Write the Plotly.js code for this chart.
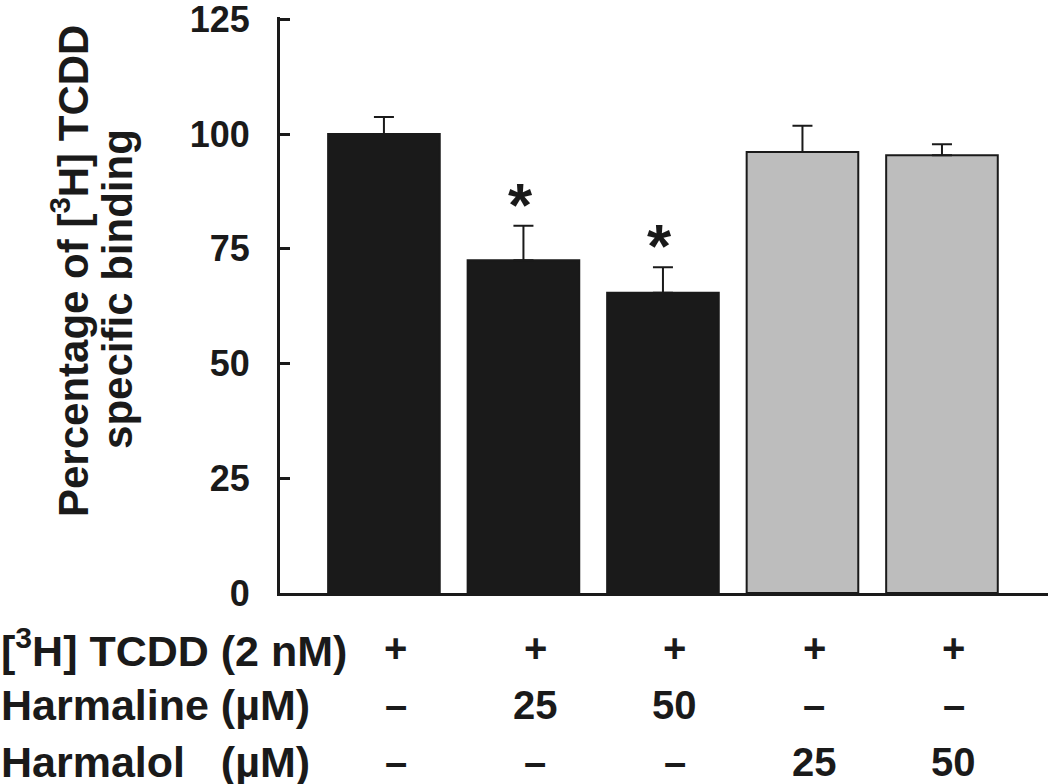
<!DOCTYPE html>
<html>
<head>
<meta charset="utf-8">
<script src="https://cdn.plot.ly/plotly-3.0.1.min.js"></script>
<style>
  body { margin: 0; background: #fff; }
  #chart { width: 1050px; height: 784px; }
</style>
</head>
<body>
<div id="chart"></div>
<script>
// bar values (% of [3H]TCDD specific binding)
const conditions = ["Control", "Harmaline 25", "Harmaline 50", "Harmalol 25", "Harmalol 50"];
const binding = [100, 72.5, 65.4, 96.1, 95.4];
const sem = [3.7, 7.5, 5.6, 5.7, 2.4];
const significant = [false, true, true, false, false];
const compound = ["none", "harmaline", "harmaline", "harmalol", "harmalol"];

// treatment table under the bars
const rowLabels = [
  "[<sup>3</sup>H] TCDD (2 nM)",
  "Harmaline (\u00b5M)",
  "Harmalol\u00a0\u00a0\u00a0(\u00b5M)",
];
const tcddRow = ["+", "+", "+", "+", "+"];
const harmalineRow = ["\u2013", "25", "50", "\u2013", "\u2013"];
const harmalolRow = ["\u2013", "\u2013", "\u2013", "25", "50"];
const yTicks = [0, 25, 50, 75, 100, 125];
const yTitleLines = ["Percentage of [<sup>3</sup>H] TCDD", "specific binding"];

const FONT = "'Liberation Sans', Arial, Helvetica, sans-serif";
const INK = "#1a1a1a";

const xIdx = conditions.map((c, i) => i);

const trace = {
  type: "bar",
  x: xIdx,
  y: binding,
  hovertext: conditions,
  hoverinfo: "text+y",
  marker: {
    color: compound.map((c) => (c === "harmalol" ? "#bdbdbd" : INK)),
    line: { color: INK, width: 2 },
  },
  error_y: {
    type: "data",
    symmetric: false,
    array: sem,
    arrayminus: sem.map(() => 0),
    color: INK,
    thickness: 2,
    width: 10,
  },
};

// significance stars
const annotations = [];
binding.forEach((v, i) => {
  if (!significant[i]) return;
  annotations.push({
    x: i, y: v + sem[i], xref: "x", yref: "y",
    text: "*", showarrow: false,
    xanchor: "center", yanchor: "bottom", yshift: -15, xshift: -3,
    font: { family: FONT, size: 62, color: INK, weight: "bold" },
  });
});

// table rows
const rows = [tcddRow, harmalineRow, harmalolRow];
const rowY = [-0.096, -0.194, -0.294];
rows.forEach((row, r) => {
  annotations.push({
    x: -0.3646, y: rowY[r], xref: "paper", yref: "paper",
    text: rowLabels[r], showarrow: false,
    xanchor: "left", yanchor: "middle", borderpad: 0,
    font: { family: FONT, size: 43, color: INK, weight: "bold" },
  });
  row.forEach((cell, i) => {
    annotations.push({
      x: i, y: rowY[r], xref: "x", yref: "paper",
      text: cell, showarrow: false, xshift: 12, borderpad: 0,
      xanchor: "center", yanchor: "middle",
      font: { family: FONT, size: 40, color: INK, weight: "bold" },
    });
  });
});

// y title, two lines placed separately (tighter leading than plotly's <br>)
const titleX = [-0.2734, -0.2109];
const titleY = [0.559, 0.528];
yTitleLines.forEach((t, k) => {
  annotations.push({
    x: titleX[k], y: titleY[k], xref: "paper", yref: "paper",
    text: t, textangle: -90, showarrow: false,
    xanchor: "center", yanchor: "middle",
    font: { family: FONT, size: 42, color: INK, weight: "bold" },
  });
});

const layout = {
  width: 1050,
  height: 784,
  margin: { l: 280, r: 2, t: 17, b: 191 },
  paper_bgcolor: "#fff",
  plot_bgcolor: "#fff",
  showlegend: false,
  bargap: 0.2,
  font: { family: FONT, color: INK },
  xaxis: {
    range: [-0.745, 4.76],
    showticklabels: false,
    ticks: "",
    showgrid: false,
    zeroline: false,
    showline: true,
    linecolor: INK,
    linewidth: 3,
  },
  yaxis: {
    range: [0, 125.5],
    tickvals: yTicks,
    ticks: "inside",
    ticklen: 10,
    tickwidth: 3,
    tickcolor: INK,
    ticklabelstandoff: 20,
    ticklabeloverflow: "allow",
    tickfont: { family: FONT, size: 36, color: INK, weight: "bold" },
    showgrid: false,
    zeroline: false,
    showline: true,
    linecolor: INK,
    linewidth: 3,
  },
  annotations: annotations,
};

Plotly.newPlot("chart", [trace], layout, { displayModeBar: false, staticPlot: true });
</script>
</body>
</html>
